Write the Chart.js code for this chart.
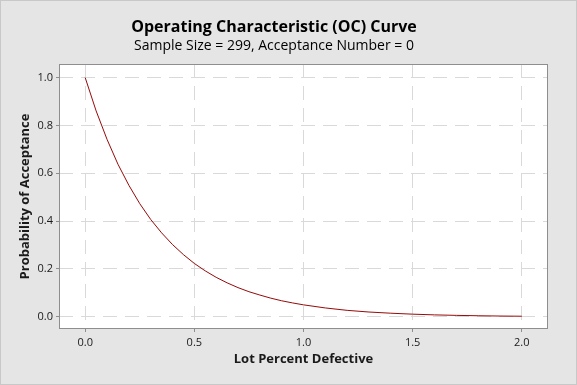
<!DOCTYPE html>
<html>
<head>
<meta charset="utf-8">
<script src="https://cdn.jsdelivr.net/npm/chart.js@4.4.1/dist/chart.umd.min.js"></script>
<style>
  html, body { margin: 0; padding: 0; background: #e5e5e5; }
  #wrap { width: 577px; height: 385px; }
</style>
</head>
<body>
<div id="wrap"><canvas id="ocChart" width="577" height="385"></canvas></div>
<script>
// lot percent defective (x) and probability of acceptance (y)
var percentDefective = [0, 0.05, 0.10, 0.15, 0.20, 0.25, 0.30, 0.35, 0.40, 0.45, 0.50,
  0.55, 0.60, 0.65, 0.70, 0.75, 0.80, 0.85, 0.90, 0.95, 1.00,
  1.10, 1.20, 1.30, 1.40, 1.50, 1.60, 1.70, 1.80, 1.90, 2.00];
var probAccept = [1.000, 0.861, 0.742, 0.638, 0.550, 0.473, 0.407, 0.351, 0.302, 0.260, 0.223,
  0.192, 0.165, 0.142, 0.122, 0.105, 0.091, 0.078, 0.067, 0.058, 0.050,
  0.037, 0.027, 0.020, 0.015, 0.011, 0.008, 0.006, 0.0044, 0.0032, 0.0024];
var xTicks = [0, 0.5, 1.0, 1.5, 2.0];
var yTicks = [0, 0.2, 0.4, 0.6, 0.8, 1.0];

var FONT = '"Open Sans", "DejaVu Sans", sans-serif';

var points = percentDefective.map(function(x, i) { return { x: x, y: probAccept[i] }; });

// gray page, white plot area, gray frame
var frame = {
  id: 'frame',
  beforeDraw: function(chart) {
    var c = chart.ctx, a = chart.chartArea;
    c.save();
    c.fillStyle = '#e5e5e5';
    c.fillRect(0, 0, chart.width, chart.height);
    c.strokeStyle = '#c8c8c8';
    c.lineWidth = 1;
    c.strokeRect(0.5, 0.5, chart.width - 1, chart.height - 1);
    c.fillStyle = '#ffffff';
    c.fillRect(a.left, a.top, a.right - a.left, a.bottom - a.top);
    c.restore();
  },
  afterDraw: function(chart) {
    var c = chart.ctx, a = chart.chartArea;
    c.save();
    c.strokeStyle = '#8e8e8e';
    c.lineWidth = 1;
    c.strokeRect(Math.round(a.left) + 0.5, Math.round(a.top) + 0.5,
      Math.round(a.right - a.left) - 1, Math.round(a.bottom - a.top) - 1);
    c.restore();
  }
};

var ctx = document.getElementById('ocChart').getContext('2d');
var ocChart = new Chart(ctx, {
  type: 'line',
  data: {
    datasets: [{
      label: 'OC',
      data: points,
      borderColor: '#960a0a',
      borderWidth: 1,
      pointRadius: 0,
      tension: 0,
      fill: false
    }]
  },
  options: {
    responsive: false,
    animation: false,
    layout: { padding: { left: 0, right: 29, top: 0, bottom: 0 } },
    scales: {
      x: {
        type: 'linear',
        min: -0.12,
        max: 2.12,
        afterBuildTicks: function(scale) {
          scale.ticks = xTicks.map(function(v) { return { value: v }; });
        },
        afterFit: function(scale) { scale.height = 56; },
        grid: { color: '#d9d9d9', drawTicks: true, tickLength: 3, tickColor: '#8e8e8e', lineWidth: 1 },
        border: { display: false, dash: [14, 8] },
        ticks: {
          padding: 4,
          color: '#1a1a1a',
          font: { family: FONT, size: 11 },
          callback: function(v) { return v.toFixed(1); }
        },
        title: {
          display: true,
          text: 'Lot Percent Defective',
          color: '#1a1a1a',
          font: { family: FONT, size: 13, weight: 'bold' },
          padding: { top: 0, bottom: 18 }
        }
      },
      y: {
        min: -0.051,
        max: 1.057,
        afterBuildTicks: function(scale) {
          scale.ticks = yTicks.map(function(v) { return { value: v }; });
        },
        afterFit: function(scale) { scale.width = 59; },
        grid: { color: '#d9d9d9', drawTicks: true, tickLength: 3, tickColor: '#8e8e8e', lineWidth: 1 },
        border: { display: false, dash: [14, 8] },
        ticks: {
          padding: 3,
          color: '#1a1a1a',
          font: { family: FONT, size: 11 },
          callback: function(v) { return v.toFixed(1); }
        },
        title: {
          display: true,
          text: 'Probability of Acceptance',
          color: '#1a1a1a',
          font: { family: FONT, size: 13, weight: 'bold' },
          padding: { top: 17, bottom: 0 }
        }
      }
    },
    plugins: {
      legend: { display: false },
      tooltip: { enabled: false },
      title: {
        display: true,
        text: 'Operating Characteristic (OC) Curve',
        color: '#000000',
        font: { family: FONT, size: 16, weight: 'bold' },
        padding: { top: 18, bottom: 0 }
      },
      subtitle: {
        display: true,
        text: 'Sample Size = 299, Acceptance Number = 0',
        color: '#000000',
        font: { family: FONT, size: 14 },
        padding: { top: 0, bottom: 10 }
      }
    }
  },
  plugins: [frame]
});
</script>
</body>
</html>
